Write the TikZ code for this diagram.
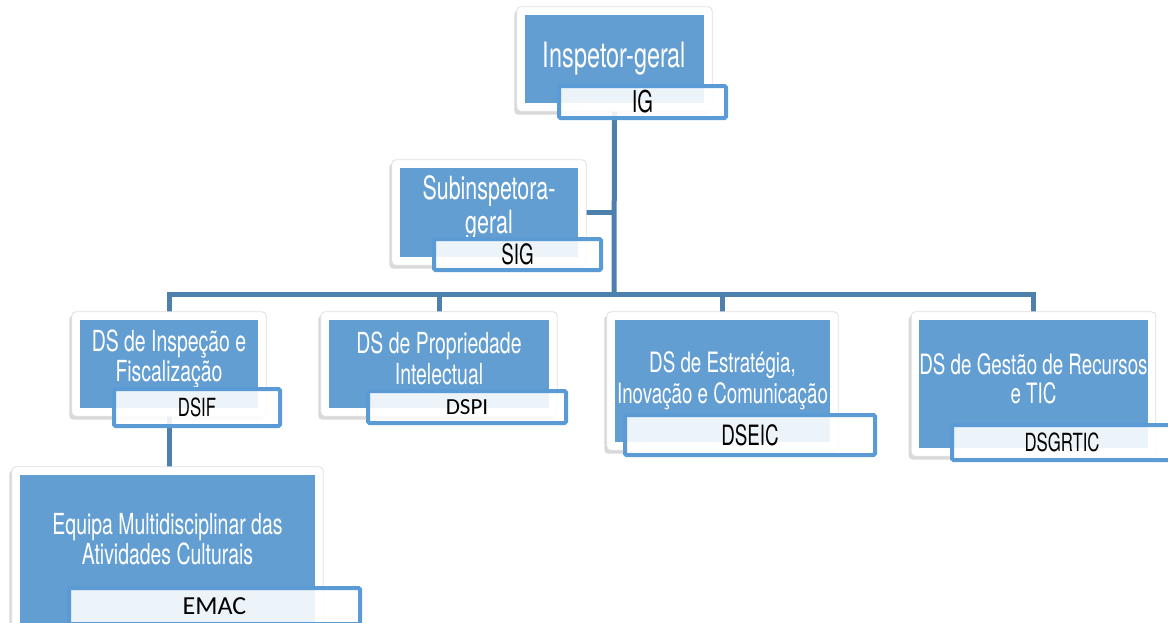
\documentclass[tikz,border=0pt]{standalone}
\usepackage{fontspec}
\usetikzlibrary{positioning,fit,backgrounds,shadows}
\newfontfamily\agency{TeX Gyre Heros}[FakeStretch=0.67]
\newfontfamily\calib{Carlito}
\definecolor{boxblue}{RGB}{99,158,210}
\definecolor{linkblue}{RGB}{78,128,174}
\definecolor{tagblue}{RGB}{91,155,213}

\begin{document}
\begin{tikzpicture}[x=1pt,y=-1pt,
    unitbox/.style={fill=boxblue, text=white, align=center, inner sep=0pt},
    card/.style={fill=white, draw=black!12, line width=0.8pt, rounded corners=4pt, inner sep=8pt,
      drop shadow={shadow xshift=-2.5pt, shadow yshift=-3.5pt, opacity=0.3}},
    tagbox/.style={draw=tagblue, line width=4pt, rounded corners=1.5pt,
      fill=white, fill opacity=0.88, text opacity=1, inner sep=0pt},
    link/.style={draw=linkblue, line width=5pt}]
    \useasboundingbox (0,0) rectangle (1168,622);
    \clip (0,0) rectangle (1168,622);
    % Units
    \node[unitbox, minimum width=179pt, minimum height=88pt,
      font=\agency\fontsize{35}{38}\selectfont] (ig) at (614.5,59) {Inspetor-geral};
    \node[unitbox, minimum width=178pt, minimum height=89pt, text depth=15pt,
      font=\agency\fontsize{32}{34}\selectfont] (sig) at (489,212.5) {Subinspetora-\\geral};
    \node[unitbox, minimum width=178pt, minimum height=88pt, text depth=16pt,
      font=\agency\fontsize{29}{30}\selectfont] (dsif) at (169,364) {DS de Inspeção e\\Fiscalização};
    \node[unitbox, minimum width=220pt, minimum height=88pt, text depth=12pt,
      font=\agency\fontsize{29}{31}\selectfont] (dspi) at (439,364) {DS de Propriedade\\Intelectual};
    \node[unitbox, minimum width=215pt, minimum height=122pt,
      font=\agency\fontsize{28}{31}\selectfont] (dseic) at (722.5,381) {DS de Estratégia,\\Inovação e Comunicação};
    \node[unitbox, minimum width=221pt, minimum height=128pt, text depth=10pt,
      font=\agency\fontsize{28}{29}\selectfont] (dsgrtic) at (1033.5,384) {DS de Gestão de Recursos\\e TIC};
    \node[unitbox, minimum width=295pt, minimum height=150pt, text depth=23pt,
      font=\agency\fontsize{29}{30}\selectfont] (emac) at (167.5,550) {Equipa Multidisciplinar das\\Atividades Culturais};
    % Acronym tags
    \node[tagbox, minimum width=167pt, minimum height=32pt,
      font=\agency\fontsize{30}{30}\selectfont] (igtag) at (642.5,102) {IG};
    \node[tagbox, minimum width=167pt, minimum height=31pt,
      font=\agency\fontsize{28}{28}\selectfont] (sigtag) at (517.5,254.5) {SIG};
    \node[tagbox, minimum width=166pt, minimum height=37pt,
      font=\agency\fontsize{25}{25}\selectfont] (dsiftag) at (197,407.5) {DSIF};
    \node[tagbox, minimum width=198pt, minimum height=32pt,
      font=\calib\fontsize{23}{23}\selectfont] (dspitag) at (467,407) {DSPI};
    \node[tagbox, minimum width=250pt, minimum height=40pt,
      font=\agency\fontsize{28}{28}\selectfont] (dseictag) at (750,435) {DSEIC};
    \node[tagbox, minimum width=220pt, minimum height=35pt,
      font=\agency\fontsize{25}{25}\selectfont] (dsgrtictag) at (1062,442.5) {DSGRTIC};
    \node[tagbox, minimum width=291pt, minimum height=36pt,
      font=\calib\fontsize{26}{26}\selectfont] (emactag) at (214.5,606) {EMAC};
    \coordinate (bar) at (614,294);
    \begin{scope}[on background layer]
      % Connectors
      \draw[link] (ig.south) -- (bar);
      \draw[link] (sig.east) -- (sig.east -| bar);
      \draw[link] (dsif.north) |- (bar) -| (dsgrtic.north);
      \draw[link] (bar -| dspi.north) -- (dspi.north);
      \draw[link] (bar -| dseic.north) -- (dseic.north);
      \draw[link] (dsif.south) -- (dsif.south |- emac.north);
      % Cards behind the units
      \foreach \u in {ig,sig,dsif,dspi,dseic,dsgrtic,emac}
        \node[card, fit=(\u)] {};
    \end{scope}
\end{tikzpicture}
\end{document}
